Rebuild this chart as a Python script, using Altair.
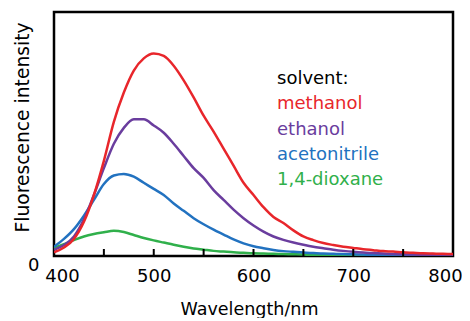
import altair as alt
import pandas as pd

wavelength = list(range(400, 801, 10))

methanol = [1.5, 3.5, 7, 14, 25, 39, 55, 67, 76, 81, 83, 82, 78, 72, 65, 57.5, 51, 44, 37, 30,
            25, 20, 16, 13.5, 10.5, 8, 6.5, 5.3, 4.5, 3.8, 3.3, 2.8, 2.4, 2.0, 1.8, 1.5, 1.3,
            1.1, 1.0, 0.9, 0.8]
ethanol = [2.5, 4.5, 8, 15, 25, 36, 46, 52.5, 56, 56, 53.5, 50.5, 46, 41, 36, 32, 27, 23, 19,
           15.5, 12.5, 10, 8, 6.6, 5.5, 4.6, 3.8, 3.2, 2.6, 2.1, 1.7, 1.4, 1.2, 1.0, 0.8, 0.7,
           0.6, 0.5, 0.4, 0.4, 0.3]
acetonitrile = [3.8, 7, 11, 16.5, 23, 29.5, 33, 33.6, 32.5, 30, 27.5, 25, 21.5, 18.5, 15.5, 13,
                10.8, 8.8, 6.8, 5.2, 4.0, 3.2, 2.5, 2.0, 1.7, 1.4, 1.2, 1.0, 0.9, 0.8, 0.7,
                0.6, 0.5, 0.5, 0.4, 0.4, 0.3, 0.3, 0.3, 0.2, 0.2]
dioxane = [3.3, 4.8, 6.5, 8, 9, 9.7, 10.3, 9.8, 8.6, 7.4, 6.4, 5.5, 4.6, 3.8, 3.1, 2.6, 2.1,
           1.8, 1.5, 1.3, 1.1, 1.0, 0.9, 0.8, 0.7, 0.6, 0.5, 0.5, 0.4, 0.4, 0.3, 0.3, 0.3,
           0.3, 0.2, 0.2, 0.2, 0.2, 0.2, 0.2, 0.2]

series_names = ["methanol", "ethanol", "acetonitrile", "1,4-dioxane"]
series_colors = ["#e8262b", "#6a3d9e", "#2272c0", "#30b04b"]
x_label_values = [400, 500, 600, 700, 800]
x_tick_values = [450, 500, 550, 600, 650, 700, 750]
y_label_values = [0]
legend_title = "solvent:"

FONT = "DejaVu Sans"

rows = []
# draw order: dioxane first, methanol last (on top)
for name, vals in reversed(list(zip(series_names, [methanol, ethanol, acetonitrile, dioxane]))):
    for w, v in zip(wavelength, vals):
        rows.append({"wl": w, "I": v, "solvent": name})
df = pd.DataFrame(rows)

color_scale = alt.Scale(domain=series_names, range=series_colors)
x_scale = alt.Scale(domain=[400, 800], nice=False, zero=False)
y_scale = alt.Scale(domain=[0, 100], nice=False)

lines = alt.Chart(df).mark_line(strokeWidth=2.5, interpolate="monotone", clip=True).encode(
    x=alt.X("wl:Q", scale=x_scale,
            axis=alt.Axis(values=x_label_values, title="Wavelength/nm", ticks=False,
                          domain=False, grid=False, labelFont=FONT, labelFontSize=18,
                          labelColor="black", labelPadding=11, labelFlush=False,
                          labelOffset=alt.expr("datum.value == 400 ? 8 : (datum.value == 800 ? -8 : 0)"),
                          titleFont=FONT, titleFontSize=17.5, titleFontWeight="normal",
                          titleColor="black", titleX=195, titleY=58,
                          titleBaseline="alphabetic")),
    y=alt.Y("I:Q", scale=y_scale,
            axis=alt.Axis(values=y_label_values, title="Fluorescence intensity", ticks=False,
                          domain=False, grid=False, labelFont=FONT, labelFontSize=18,
                          labelColor="black", labelPadding=15, labelBaseline="top",
                          labelFlush=False,
                          titleFont=FONT, titleFontSize=18.7, titleFontWeight="normal",
                          titleColor="black", titleX=-32, titleY=115,
                          titleBaseline="middle")),
    color=alt.Color("solvent:N", scale=color_scale, legend=None),
    detail="solvent:N",
)

ticks = alt.Chart(pd.DataFrame({"t": x_tick_values})).mark_rule(
    color="black", strokeWidth=2).encode(
    x=alt.X("t:Q", scale=x_scale),
    y=alt.value(244),
    y2=alt.value(237),
)

legend_rows = [legend_title] + series_names
legend_colors = ["black"] + series_colors
legend_layers = []
for i, (lab, col) in enumerate(zip(legend_rows, legend_colors)):
    legend_layers.append(
        alt.Chart(pd.DataFrame({"label": [lab]})).mark_text(
            align="left", baseline="alphabetic", font=FONT, fontSize=18, color=col
        ).encode(text="label:N", x=alt.value(223), y=alt.value(72 + 25.3 * i))
    )

chart = alt.layer(lines, ticks, *legend_layers).properties(
    width=399, height=244,
    autosize=alt.AutoSizeParams(type="none"),
    padding={"left": 46, "top": 4, "right": 9, "bottom": 62},
    background="white",
).configure_view(stroke="black", strokeWidth=2.5)

chart.save("out.html", embed_options={"renderer": "svg", "actions": False})
